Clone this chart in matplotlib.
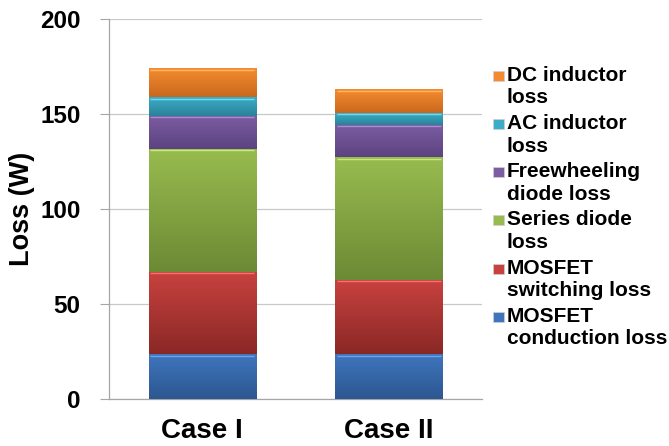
import numpy as np
import matplotlib
matplotlib.use("Agg")
import matplotlib.pyplot as plt
from matplotlib.colors import LinearSegmentedColormap, to_rgb
from matplotlib.patches import Rectangle

plt.rcParams["font.family"] = ["Liberation Sans", "DejaVu Sans"]
plt.rcParams["font.weight"] = "bold"

# ── Data (W) ─────────────────────────────────────────────────────────────────
cases = ["Case I", "Case II"]
mosfet_conduction = [23.5, 23.5]
mosfet_switching = [43.3, 39.1]
series_diode = [64.8, 64.6]
freewheeling_diode = [17.5, 17.2]
ac_inductor = [9.7, 6.3]
dc_inductor = [15.2, 12.3]

series = [
    ("MOSFET\nconduction loss", mosfet_conduction, "#3f75bd", "#2c5791"),
    ("MOSFET\nswitching loss", mosfet_switching, "#c8423f", "#8a2826"),
    ("Series diode\nloss", series_diode, "#98bb4f", "#6c8a35"),
    ("Freewheeling\ndiode loss", freewheeling_diode, "#7c5ca2", "#5c4380"),
    ("AC inductor\nloss", ac_inductor, "#3cadc8", "#2a8299"),
    ("DC inductor\nloss", dc_inductor, "#f58b31", "#c9681c"),
]

W, H = 669, 446
fig = plt.figure(figsize=(W / 100, H / 100), dpi=100)
ax = fig.add_axes([109 / W, 1 - 399 / H, (482 - 109) / W, (399 - 19) / H])

x = np.arange(len(cases))
bar_w = 0.574
bottom = np.zeros(len(cases))


def shade(bar, top_c, bot_c):
    # vertical gradient clipped to the bar, with a thin light rim on top
    cmap = LinearSegmentedColormap.from_list("g", [bot_c, top_c])
    x0, y0 = bar.get_x(), bar.get_y()
    w, h = bar.get_width(), bar.get_height()
    grad = np.linspace(0, 1, 64).reshape(-1, 1)
    im = ax.imshow(grad, cmap=cmap, origin="lower", aspect="auto",
                   extent=[x0, x0 + w, y0, y0 + h], zorder=3)
    im.set_clip_path(bar)
    light = tuple(min(1, c + 0.18) for c in to_rgb(top_c))
    ax.plot([x0 + 0.008, x0 + w - 0.008], [y0 + h - 0.7, y0 + h - 0.7],
            color=light, lw=1.0, zorder=4, solid_capstyle="butt")


for label, vals, c_top, c_bot in series:
    bars = ax.bar(x, vals, bar_w, bottom=bottom, color=c_top,
                  edgecolor="#b8b8b8", linewidth=0.6, zorder=2)
    for b in bars:
        shade(b, c_top, c_bot)
    bottom += np.array(vals)

ax.set_xlim(-0.5, len(cases) - 0.5)
ax.set_ylim(0, 200)
ax.set_yticks([0, 50, 100, 150, 200])
ax.set_xticks(x)
ax.set_xticklabels(cases, fontsize=20, fontweight="bold")
ax.tick_params(axis="x", length=0, pad=14)
ax.tick_params(axis="y", direction="out", length=6.5, width=0.8,
               color="#a6a6a6", labelsize=17.5, pad=14)
for t in ax.get_yticklabels():
    t.set_fontweight("bold")
ax.set_ylabel("Loss (W)", fontsize=19.5, fontweight="bold")
ax.yaxis.set_label_coords(-74 / 373, 0.5)

ax.grid(axis="y", color="#c8c8c8", linewidth=0.9, zorder=0)
ax.set_axisbelow(True)
for s in ["top", "right"]:
    ax.spines[s].set_visible(False)
for s in ["left", "bottom"]:
    ax.spines[s].set_color("#a6a6a6")
    ax.spines[s].set_linewidth(0.9)

# ── Legend: handle aligned with the first line of each label ─────────────────
y_first = 80.7
step = 48.2
for i, (label, vals, c_top, c_bot) in enumerate(series[::-1]):
    base = y_first + i * step
    first, second = label.split("\n")
    fig.add_artist(Rectangle((493 / W, 1 - base / H), 11 / W, 10 / H,
                             transform=fig.transFigure, facecolor=c_top,
                             edgecolor="#d0d0d0", linewidth=0.5))
    fig.text(507 / W, 1 - base / H, first, fontsize=15,
             fontweight="bold", va="baseline", ha="left")
    fig.text(507 / W, 1 - (base + 22.6) / H, second, fontsize=15,
             fontweight="bold", va="baseline", ha="left")

fig.savefig("out.png", dpi=100)
